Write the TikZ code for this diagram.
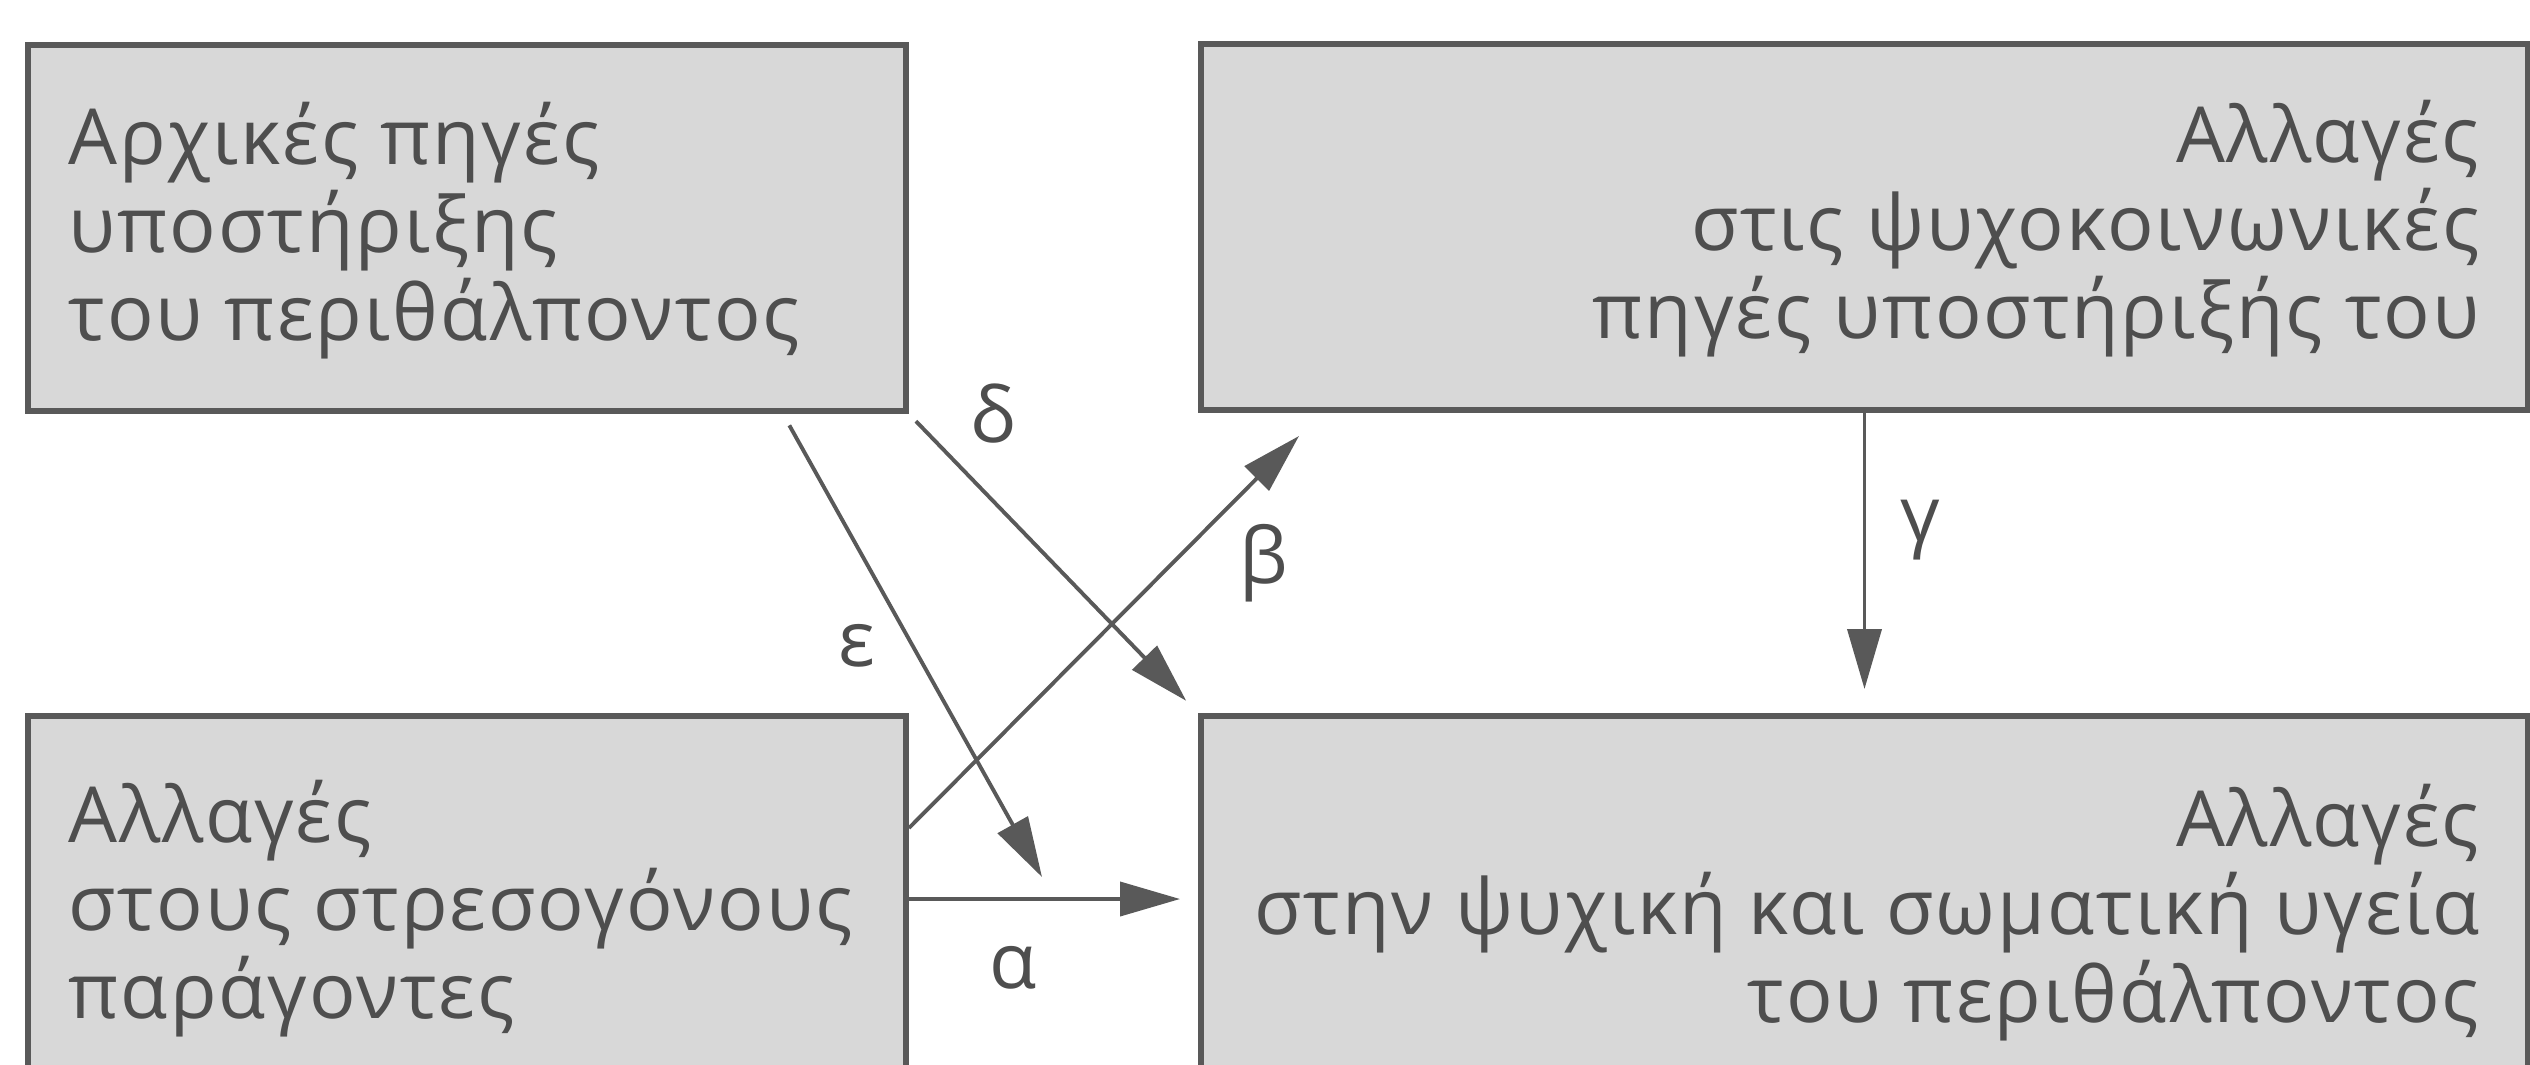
\documentclass[tikz,border=0pt]{standalone}
\usepackage{fontspec}
\setmainfont{Open Sans}[LetterSpace=2.5]
\usepackage{tikz}
\usetikzlibrary{arrows.meta, positioning, calc}

\definecolor{boxgray}{HTML}{D8D8D8}
\definecolor{linegray}{HTML}{595959}
\definecolor{textgray}{HTML}{4E4E4E}

\begin{document}
\begin{tikzpicture}[
      box/.style={draw=linegray, line width=1.7pt, fill=boxgray, minimum width=8.78cm, minimum height=3.66cm, inner sep=0pt},
      widebox/.style={box, minimum width=13.27cm},
      boxtext/.style={font=\fontsize{22}{25}\selectfont, text=textgray, inner sep=0pt},
      arrow/.style={-{Triangle[length=0.6cm, width=0.34cm]}, draw=linegray, line width=1.1pt},
      lbl/.style={font=\fontsize{22}{25}\selectfont, text=textgray, inner sep=0pt}
    ]
      % page frame, the lower boxes run off the bottom edge
      \clip (0,0) rectangle (25.3,10.64);
      \fill[white] (0,0) rectangle (25.3,10.64);

      % Boxes
      \node[box] (src) at (4.67,8.36) {};
      \node[widebox] (supp) at (18.645,8.37) {};
      \node[box, minimum height=3.7cm] (stress) at (4.67,1.63) {};
      \node[widebox, minimum height=3.7cm] (health) at (18.645,1.63) {};

      % Box texts, anchored at the baseline of their last line
      \node[boxtext, align=left, anchor=base west] (srctext) at ([xshift=0.43cm, yshift=-2.98cm]src.north west)
        {Αρχικές πηγές\\υποστήριξης\\του περιθάλποντος};
      \node[boxtext, align=right, anchor=base east] (supptext) at ([xshift=-0.51cm, yshift=-2.97cm]supp.north east)
        {Αλλαγές\\στις ψυχοκοινωνικές\\πηγές υποστήριξής του};
      \node[boxtext, align=left, anchor=base west] (stresstext) at ([xshift=0.43cm, yshift=-3.05cm]stress.north west)
        {Αλλαγές\\στους στρεσογόνους\\παράγοντες};
      \node[boxtext, align=right, anchor=base east] (healthtext) at ([xshift=-0.51cm, yshift=-3.09cm]health.north east)
        {Αλλαγές\\στην ψυχική και σωματική υγεία\\του περιθάλποντος};

      % Start and end points of the connectors
      \coordinate (aout) at ([yshift=-1.86cm]stress.north east);
      \coordinate (bout) at ([yshift=-1.15cm]stress.north east);
      \coordinate (bend) at ([xshift=1.01cm, yshift=-0.23cm]supp.south west);
      \coordinate (eout) at ([xshift=-1.26cm]src.south east);
      \coordinate (eend) at ([xshift=1.33cm, yshift=0.22cm]aout);

      % Arrows
      \draw[arrow, shorten >=0.18cm] (aout) -- (aout -| health.west) node[lbl, pos=0.36, below=0.45cm] {α};
      \draw[arrow] (bout) -- (bend) node[lbl, pos=0.676, right=0.65cm] {β};
      \draw[arrow, shorten >=0.24cm] (supp.south) -- (supp.south |- health.north) node[lbl, pos=0.39, right=0.34cm] {γ};
      \draw[arrow, shorten <=0.1cm, shorten >=0.17cm] (src.south east) -- (health.north west) node[lbl, pos=0, right=0.6cm] {δ};
      \draw[arrow, shorten <=0.13cm] (eout) -- (eend) node[lbl, pos=0.5, left=0.35cm] {ε};
    \end{tikzpicture}
\end{document}
